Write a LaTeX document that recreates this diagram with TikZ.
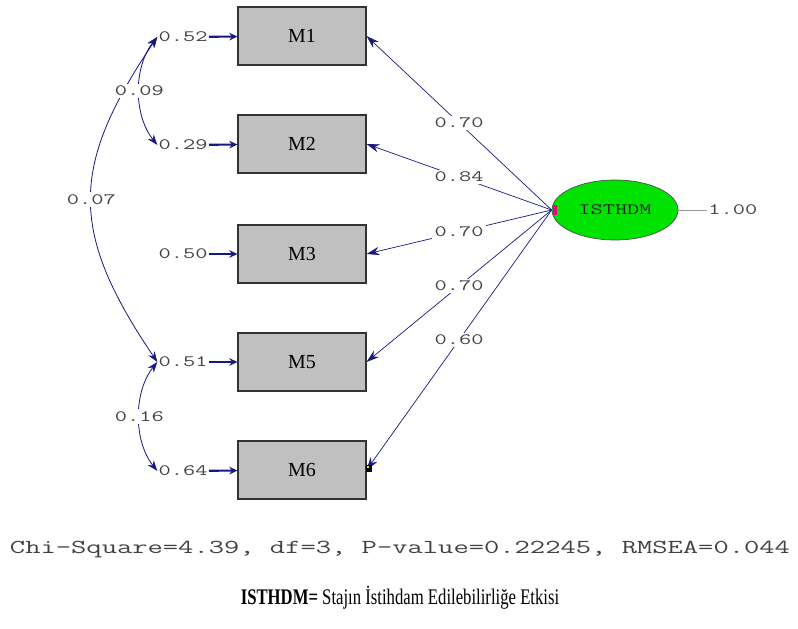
\documentclass[tikz,border=0pt]{standalone}
\usepackage{graphicx}
\usepackage{fontspec}
\setmainfont{Liberation Serif}
\usetikzlibrary{arrows.meta,shapes.geometric}
\definecolor{lisnavy}{RGB}{25,25,130}
\definecolor{lisgray}{RGB}{192,192,192}
\definecolor{lisgreen}{RGB}{0,226,0}
\definecolor{listext}{RGB}{65,65,65}
\newcommand{\lis}[1]{\scalebox{1.5}[1]{#1}}

\begin{document}
\begin{tikzpicture}[x=0.03cm,y=-0.03cm,
  obs/.style={draw=black!80,line width=0.9pt,fill=lisgray,minimum width=3.84cm,minimum height=1.74cm,inner sep=0pt,font=\fontsize{17}{17}\selectfont},
  latent/.style={ellipse,draw=black!70,line width=0.6pt,fill=lisgreen,minimum width=3.78cm,minimum height=1.8cm,inner sep=0pt,font=\ttfamily\fontsize{13.5}{13.5}\selectfont,text=black!85},
  num/.style={text=listext,font=\ttfamily\fontsize{13.5}{13.5}\selectfont,inner sep=1pt},
  lbl/.style={num,fill=white,inner sep=2pt},
  load/.style={lisnavy,line width=0.6pt,-{Stealth[length=11pt,width=7pt]}},
  err/.style={lisnavy,line width=1.8pt,-{Stealth[length=7pt,width=6.5pt]}},
  cov/.style={lisnavy,line width=0.7pt,{Stealth[length=9pt,width=6.5pt]}-{Stealth[length=9pt,width=6.5pt]}}]

\useasboundingbox (0,0) rectangle (798,629);

\node[obs] (m1) at (302,36) {M1};
\node[obs] (m2) at (302,144) {M2};
\node[obs] (m3) at (302,254) {M3};
\node[obs] (m5) at (302,362) {M5};
\node[obs] (m6) at (302,470) {M6};

\node[latent] (isthdm) at (615,210) {\lis{ISTHDM}};

\node[num,anchor=east] (e1) at (209,37) {\lis{0.52}};
\node[num,anchor=east] (e2) at (209,145) {\lis{0.29}};
\node[num,anchor=east] (e3) at (209,254) {\lis{0.50}};
\node[num,anchor=east] (e5) at (209,362) {\lis{0.51}};
\node[num,anchor=east] (e6) at (209,471) {\lis{0.64}};

\draw[err] (e1) -- (m1);
\draw[err] (e2) -- (m2);
\draw[err] (e3) -- (m3);
\draw[err] (e5) -- (m5);
\draw[err] (e6) -- (m6);

\draw[cov] (e1.west) .. controls +(-88,130) and +(-88,-130) .. (e5.west) node[lbl,pos=0.5] {\lis{0.07}};
\draw[cov] (e1.west) .. controls +(-24,30) and +(-24,-30) .. (e2.west) node[lbl,pos=0.5] {\lis{0.09}};
\draw[cov] (e5.west) .. controls +(-24,30) and +(-24,-30) .. (e6.west) node[lbl,pos=0.5] {\lis{0.16}};

\draw[load] (isthdm.west) -- (m1.east) node[lbl,pos=0.5] {\lis{0.70}};
\draw[load] (isthdm.west) -- (m2.east) node[lbl,pos=0.5] {\lis{0.84}};
\draw[load] (isthdm.west) -- (m3.east) node[lbl,pos=0.5] {\lis{0.70}};
\draw[load] (isthdm.west) -- (m5.east) node[lbl,pos=0.5] {\lis{0.70}};
\draw[load] (isthdm.west) -- (m6.east) node[lbl,pos=0.5] {\lis{0.60}};

\fill[magenta] (553,205) rectangle (557,215);
\fill[black] (366,465) rectangle (372,472);
\fill[yellow] (367,466) rectangle (369,468);

\node[num,anchor=west] (v) at (707,210) {\lis{1.00}};
\draw[black!40,line width=0.5pt] (isthdm.east) -- (v.west);

\node[num,font=\ttfamily\fontsize{16.9}{16.9}\selectfont] (fit) at (400,550) {\lis{Chi-Square=4.39, df=3, P-value=0.22245, RMSEA=0.044}};
\node[font=\fontsize{19}{19}\selectfont] (cap) at (400,598) {\scalebox{0.75}[1]{\textbf{ISTHDM=} Stajın İstihdam Edilebilirliğe Etkisi}};
\end{tikzpicture}
\end{document}
